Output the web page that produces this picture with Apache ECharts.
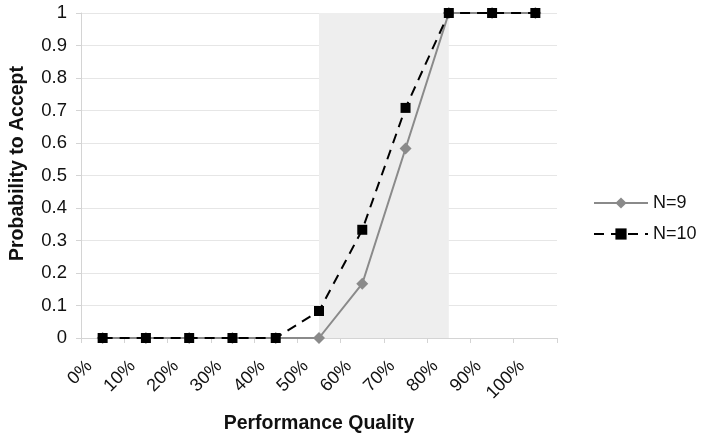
<!DOCTYPE html>
<html>
<head>
<meta charset="utf-8">
<script src="https://cdn.jsdelivr.net/npm/echarts@6/dist/echarts.min.js"></script>
<style>html,body{margin:0;padding:0;background:#fff}#c{width:701px;height:440px}</style>
</head>
<body>
<div id="c"></div>
<script>
const categories = ['0%','10%','20%','30%','40%','50%','60%','70%','80%','90%','100%'];
const n9 = [0,0,0,0,0,0,0.167,0.583,1,1,1];
const n10 = [0,0,0,0,0,0.083,0.333,0.708,1,1,1];
const yTicks = [0,0.1,0.2,0.3,0.4,0.5,0.6,0.7,0.8,0.9,1];
const shadeFrom = '50%', shadeTo = '80%';

const chart = echarts.init(document.getElementById('c'));
const font = 'Liberation Sans, Arial, sans-serif';
chart.setOption({
  animation: false,
  grid: {left: 81, right: 144, top: 13, bottom: 102, containLabel: false, outerBoundsMode: 'none'},
  legend: {
    orient: 'vertical', left: 588, top: 189, itemGap: 13,
    itemWidth: 54, itemHeight: 14,
    textStyle: {fontFamily: font, fontSize: 18, color: '#111'},
    data: ['N=9', 'N=10']
  },
  xAxis: {
    type: 'category', data: categories, boundaryGap: true,
    name: 'Performance Quality', nameLocation: 'middle', nameGap: 76,
    nameTextStyle: {fontFamily: font, fontSize: 19.5, fontWeight: 'bold', color: '#111'},
    axisLine: {lineStyle: {color: '#d4d4d4', width: 1}},
    axisTick: {show: true, length: 5, lineStyle: {color: '#d4d4d4'}},
    axisLabel: {rotate: 45, fontFamily: font, fontSize: 18, color: '#111', margin: 12, interval: 0,
      padding: [0, 19, 0, 0]},
    splitLine: {show: false}
  },
  yAxis: {
    type: 'value', min: 0, max: 1, interval: 0.1,
    name: 'Probability to Accept', nameLocation: 'middle', nameGap: 53,
    nameTextStyle: {fontFamily: font, fontSize: 19.5, fontWeight: 'bold', color: '#111',
      padding: [0, 0, 0, 24]},
    axisLine: {show: true, lineStyle: {color: '#d4d4d4'}},
    axisTick: {show: true, length: 5, lineStyle: {color: '#d4d4d4'}},
    axisLabel: {fontFamily: font, fontSize: 18.5, color: '#111', margin: 14,
      formatter: v => { const t = yTicks.find(x => Math.abs(x - v) < 1e-9); return t === undefined ? '' : String(t); }},
    splitLine: {lineStyle: {color: '#e6e6e6', width: 1}}
  },
  series: [
    {
      name: 'N=9', type: 'line', data: n9,
      symbol: 'diamond', symbolSize: 12,
      lineStyle: {color: '#8a8a8a', width: 2},
      itemStyle: {color: '#8a8a8a'},
      z: 2,
      markArea: {
        silent: true,
        itemStyle: {color: '#eeeeee', opacity: 1},
        data: [[{xAxis: shadeFrom}, {xAxis: shadeTo}]]
      }
    },
    {
      name: 'N=10', type: 'line', data: n10,
      symbol: 'rect', symbolSize: 10,
      lineStyle: {color: '#000', width: 2, type: [10, 7]},
      itemStyle: {color: '#000'},
      z: 3
    }
  ]
});
</script>
</body>
</html>
